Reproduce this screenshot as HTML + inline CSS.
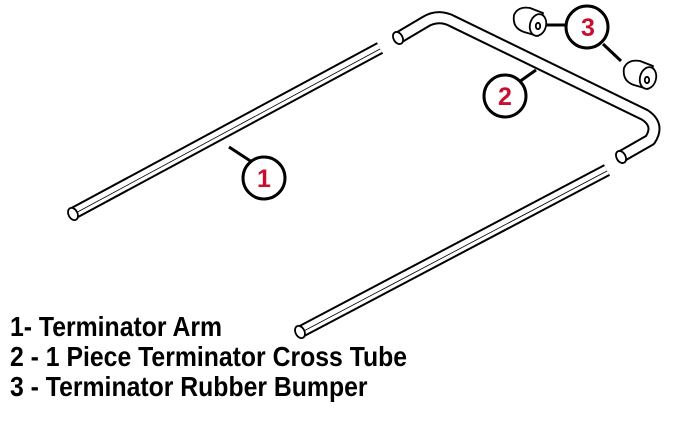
<!DOCTYPE html>
<html><head><style>
body{margin:0;width:676px;height:421px;background:#fff;overflow:hidden;position:relative}
.t{position:absolute;left:10px;font-family:"Liberation Sans Narrow","Liberation Sans",sans-serif;font-weight:bold;font-size:28px;color:#000;white-space:nowrap;transform-origin:left top;transform:scaleX(0.885)}
</style></head><body>
<svg width="676" height="421" style="position:absolute;left:0;top:0" fill="none" stroke-linecap="butt" stroke-linejoin="round">
<g>
<line x1="72" y1="214" x2="380" y2="48" stroke="#000" stroke-width="13"/>
<line x1="72" y1="214" x2="380" y2="48" stroke="#fff" stroke-width="9"/>
<line x1="72" y1="215" x2="380" y2="49" stroke="#000" stroke-width="0.8"/>
<ellipse cx="73" cy="214" rx="4.5" ry="6.5" transform="rotate(-28 73 214)" fill="#fff" stroke="#000" stroke-width="1.8"/>
</g>
<g>
<line x1="300" y1="332" x2="607" y2="170" stroke="#000" stroke-width="13"/>
<line x1="300" y1="332" x2="607" y2="170" stroke="#fff" stroke-width="9"/>
<line x1="300" y1="333" x2="607" y2="171" stroke="#000" stroke-width="0.8"/>
<ellipse cx="300" cy="332" rx="4.5" ry="6.5" transform="rotate(-28 300 332)" fill="#fff" stroke="#000" stroke-width="1.8"/>
</g>
<path d="M398 38 L425 22 Q438 14 452 21 L645 115 Q660 125 650 140 L622 156" stroke="#000" stroke-width="13"/>
<path d="M398 38 L425 22 Q438 14 452 21 L645 115 Q660 125 650 140 L622 156" stroke="#fff" stroke-width="9"/>
<ellipse cx="398" cy="38" rx="4.5" ry="6.5" transform="rotate(-30 398 38)" fill="#fff" stroke="#000" stroke-width="1.8"/>
<ellipse cx="621" cy="157" rx="4.5" ry="6.5" transform="rotate(-30 621 157)" fill="#fff" stroke="#000" stroke-width="1.8"/>
<g stroke="#000" stroke-width="1.8" fill="#fff">
<path d="M514 15 Q518 6 530 8 L543 13 L538 36 L524 32 Q512 28 514 15Z"/>
<ellipse cx="538" cy="25" rx="8" ry="11" transform="rotate(15 538 25)"/>
<ellipse cx="538" cy="26" rx="2.2" ry="3.2"/>
<path d="M624 68 Q628 59 640 61 L653 66 L648 89 L634 85 Q622 81 624 68Z"/>
<ellipse cx="648" cy="78" rx="8" ry="11" transform="rotate(15 648 78)"/>
<ellipse cx="647" cy="80" rx="2.2" ry="3.2"/>
</g>
<g stroke="#000" stroke-width="3">
<line x1="229" y1="147" x2="252" y2="162"/>
<line x1="536" y1="70" x2="519" y2="82"/>
<line x1="546" y1="25" x2="567" y2="25"/>
<line x1="603" y1="44" x2="621" y2="61"/>
</g>
<g stroke="#000" stroke-width="3" fill="#fff">
<circle cx="264" cy="178" r="21"/>
<circle cx="505" cy="96" r="21"/>
<circle cx="587" cy="27" r="21"/>
</g>
<g fill="#c8102e" font-family="Liberation Sans,sans-serif" font-weight="bold" font-size="25" text-anchor="middle">
<text x="264" y="187">1</text>
<text x="505" y="105">2</text>
<text x="588" y="36">3</text>
</g>
</svg>
<div class="t" style="top:311px">1- Terminator Arm</div>
<div class="t" style="top:341px">2 - 1 Piece Terminator Cross Tube</div>
<div class="t" style="top:371px">3 - Terminator Rubber Bumper</div>
</body></html>
